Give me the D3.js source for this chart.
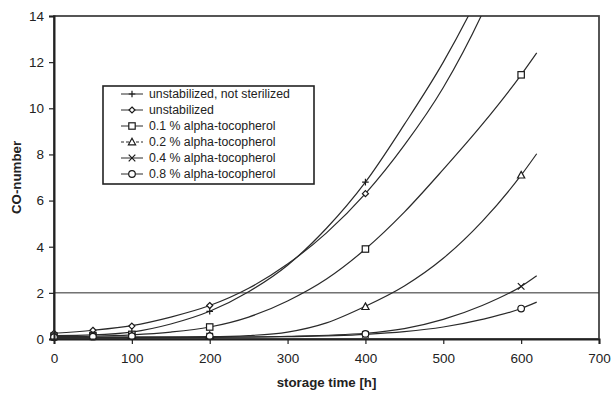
<!DOCTYPE html>
<html>
<head>
<meta charset="utf-8">
<script src="https://cdn.jsdelivr.net/npm/d3@7"></script>
<style>
  body { margin: 0; background: #fff; }
  text { font-family: Arial, "Liberation Sans", sans-serif; fill: #222; }
</style>
</head>
<body>
<script>
// series names, in legend order
const seriesNames = [
  "unstabilized, not sterilized",
  "unstabilized",
  "0.1 % alpha-tocopherol",
  "0.2 % alpha-tocopherol",
  "0.4 % alpha-tocopherol",
  "0.8 % alpha-tocopherol"
]
const markerTypes = ["plus", "diamond", "square", "triangle", "cross", "circle"]

// measured points [time h, CO-number]
const ptsPlus     = [[0, 0.15], [50, 0.2], [100, 0.28], [200, 1.2], [400, 6.8]]
const ptsDiamond  = [[0, 0.25], [50, 0.38], [100, 0.56], [200, 1.45], [400, 6.3]]
const ptsSquare   = [[0, 0.12], [50, 0.15], [100, 0.2], [200, 0.52], [400, 3.9], [600, 11.45]]
const ptsTriangle = [[0, 0.1], [50, 0.12], [100, 0.15], [200, 0.15], [400, 1.4], [600, 7.1]]
const ptsCross    = [[0, 0.08], [50, 0.1], [100, 0.12], [200, 0.12], [400, 0.2], [600, 2.28]]
const ptsCircle   = [[0, 0.08], [50, 0.1], [100, 0.12], [200, 0.12], [400, 0.22], [600, 1.32]]

// trend curves
const fitPlus     = [[0, 0.15], [50, 0.18], [100, 0.3], [150, 0.65], [200, 1.2], [250, 2.05], [300, 3.2], [350, 4.8], [400, 6.8], [450, 9.3], [500, 12.0], [550, 15.2], [575, 17]]
const fitDiamond  = [[0, 0.25], [50, 0.38], [100, 0.58], [150, 0.95], [200, 1.45], [250, 2.2], [300, 3.25], [350, 4.6], [400, 6.3], [450, 8.4], [500, 10.9], [550, 14.1], [575, 16]]
const fitSquare   = [[0, 0.1], [50, 0.12], [100, 0.18], [150, 0.3], [200, 0.52], [250, 0.95], [300, 1.65], [350, 2.6], [400, 3.9], [450, 5.5], [500, 7.35], [550, 9.3], [600, 11.45], [620, 12.4]]
const fitTriangle = [[0, 0.08], [100, 0.09], [200, 0.1], [250, 0.15], [300, 0.3], [350, 0.7], [400, 1.42], [450, 2.3], [500, 3.5], [550, 5.1], [600, 7.1], [620, 8.03]]
const fitCross    = [[0, 0.05], [200, 0.08], [300, 0.12], [400, 0.25], [450, 0.45], [500, 0.85], [550, 1.45], [600, 2.28], [620, 2.74]]
const fitCircle   = [[0, 0.05], [200, 0.07], [300, 0.1], [400, 0.2], [450, 0.32], [500, 0.52], [550, 0.85], [600, 1.32], [620, 1.6]]

const xTicks = [0, 100, 200, 300, 400, 500, 600, 700]
const yTicks = [0, 2, 4, 6, 8, 10, 12, 14]
const refLine = 2

const points = [ptsPlus, ptsDiamond, ptsSquare, ptsTriangle, ptsCross, ptsCircle]
const fits = [fitPlus, fitDiamond, fitSquare, fitTriangle, fitCross, fitCircle]

const w = 611
const h = 394
const pLeft = 54, pRight = 599, pTop = 16, pBottom = 339
const ink = '#2a2a2a'

const svg = d3.select('body')
    .append('svg')
    .attr('width', w)
    .attr('height', h)

const x = d3.scaleLinear().domain([0, 700]).range([pLeft, pRight])
const y = d3.scaleLinear().domain([0, 14]).range([pBottom, pTop])

svg.append('clipPath')
    .attr('id', 'plot')
    .append('rect')
    .attr('x', pLeft).attr('y', pTop)
    .attr('width', pRight - pLeft).attr('height', pBottom - pTop)

// frame
svg.append('rect')
    .attr('x', pLeft).attr('y', pTop)
    .attr('width', pRight - pLeft).attr('height', pBottom - pTop)
    .attr('fill', 'none')
    .attr('stroke', '#444')
    .attr('stroke-width', 1.8)

// reference line at CO-number 2
svg.append('line')
    .attr('x1', pLeft).attr('x2', pRight)
    .attr('y1', y(refLine)).attr('y2', y(refLine))
    .attr('stroke', ink)
    .attr('stroke-width', 1)

const line = d3.line()
    .x(d => x(d[0]))
    .y(d => y(d[1]))
    .curve(d3.curveMonotoneX)

svg.append('g')
    .attr('clip-path', 'url(#plot)')
    .selectAll('path')
    .data(fits)
    .enter()
    .append('path')
    .attr('d', line)
    .attr('fill', 'none')
    .attr('stroke', ink)
    .attr('stroke-width', 1.2)

function drawMarker(g, type, cx, cy) {
    const s = 3.3
    let m
    if (type === 'plus') {
        m = g.append('path').attr('d', `M${cx - s},${cy}H${cx + s}M${cx},${cy - s}V${cy + s}`).attr('fill', 'none')
    } else if (type === 'cross') {
        m = g.append('path').attr('d', `M${cx - s},${cy - s}L${cx + s},${cy + s}M${cx - s},${cy + s}L${cx + s},${cy - s}`).attr('fill', 'none')
    } else if (type === 'diamond') {
        m = g.append('path').attr('d', `M${cx},${cy - 3}L${cx + 3},${cy}L${cx},${cy + 3}L${cx - 3},${cy}Z`).attr('fill', '#fff')
    } else if (type === 'square') {
        m = g.append('rect').attr('x', cx - 3.2).attr('y', cy - 3.2).attr('width', 6.4).attr('height', 6.4).attr('fill', '#fff')
    } else if (type === 'triangle') {
        m = g.append('path').attr('d', `M${cx},${cy - 3.8}L${cx + 3.6},${cy + 2.8}L${cx - 3.6},${cy + 2.8}Z`).attr('fill', '#fff')
    } else {
        m = g.append('circle').attr('cx', cx).attr('cy', cy).attr('r', 3.3).attr('fill', '#fff')
    }
    m.attr('stroke', '#1a1a1a').attr('stroke-width', 1.2)
}

const markers = svg.append('g')
points.forEach((pts, i) => {
    pts.forEach(d => drawMarker(markers, markerTypes[i], x(d[0]), y(d[1])))
})

// axes
const xAxis = d3.axisBottom(x).tickValues(xTicks).tickSize(5).tickPadding(9).tickFormat(d3.format('d'))
const yAxis = d3.axisLeft(y).tickValues(yTicks).tickSize(5).tickPadding(5).tickFormat(d3.format('d'))

const gx = svg.append('g')
    .attr('transform', `translate(0, ${pBottom})`)
    .call(xAxis)
const gy = svg.append('g')
    .attr('transform', `translate(${pLeft}, 0)`)
    .call(yAxis)

;[gx, gy].forEach(g => {
    g.select('.domain').attr('stroke', '#222').attr('stroke-width', 2)
    g.selectAll('.tick line').attr('stroke', '#222').attr('stroke-width', 1.2)
    g.selectAll('.tick text')
        .attr('font-size', 13.5)
        .attr('font-family', 'Arial, "Liberation Sans", sans-serif')
        .attr('fill', '#222')
})

svg.append('text')
    .attr('x', (pLeft + pRight) / 2)
    .attr('y', 387)
    .attr('text-anchor', 'middle')
    .attr('font-size', 13.3)
    .attr('font-weight', 'bold')
    .text('storage time [h]')

svg.append('text')
    .attr('transform', `translate(21, ${(pTop + pBottom) / 2}) rotate(-90)`)
    .attr('text-anchor', 'middle')
    .attr('font-size', 13.3)
    .attr('font-weight', 'bold')
    .text('CO-number')

// legend
const legend = svg.append('g')
legend.append('rect')
    .attr('x', 103).attr('y', 86)
    .attr('width', 211).attr('height', 98)
    .attr('fill', '#fff')
    .attr('stroke', '#222')
    .attr('stroke-width', 1.6)

seriesNames.forEach((name, i) => {
    const ly = 94 + i * 16
    legend.append('line')
        .attr('x1', 121).attr('x2', 143)
        .attr('y1', ly).attr('y2', ly)
        .attr('stroke', ink)
        .attr('stroke-width', 1)
        .attr('stroke-dasharray', i === 3 ? '3,2' : null)
    drawMarker(legend, markerTypes[i], 132, ly)
    legend.append('text')
        .attr('x', 149)
        .attr('y', ly + 4.3)
        .attr('font-size', 12.3)
        .text(name)
})
</script>
</body>
</html>
